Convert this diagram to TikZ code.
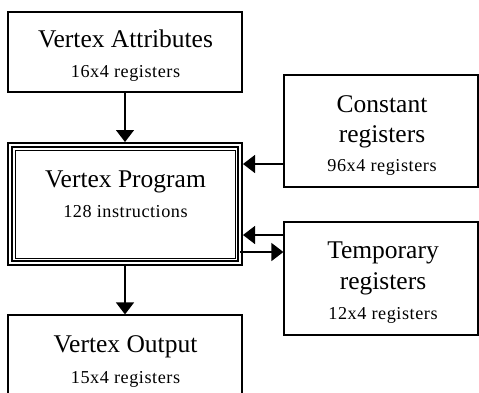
\documentclass[tikz,border=0pt]{standalone}
\usepackage{fontspec}
\setmainfont{Liberation Serif}
\newfontfamily\subfont[LetterSpace=3]{Liberation Serif}
\usetikzlibrary{arrows.meta}
\tikzset{
  box/.style={draw, line width=1.2pt, inner sep=0pt, minimum width=234pt},
  rbox/.style={draw, line width=1.2pt, inner sep=0pt, minimum width=194pt},
  ttl/.style={anchor=base, inner sep=0pt, font=\fontsize{25.5}{30}\selectfont},
  sub/.style={anchor=base, inner sep=0pt, font=\subfont\fontsize{18.2}{22}\selectfont},
  arr/.style={line width=1.3pt, -{Triangle[length=12pt,width=18pt]}}
}
\begin{document}
\begin{tikzpicture}[x=1pt,y=-1pt]
\useasboundingbox (0,0) rectangle (479,392);
\clip (0,0) rectangle (479,392);
% boxes
\node[box, minimum height=80pt] (attr) at (125,52) {};
\node[draw, line width=2pt, inner sep=0pt, minimum width=234pt, minimum height=122pt] (prog) at (125,204) {};
\node[draw, line width=1.2pt, inner sep=0pt, minimum width=226pt, minimum height=114pt] (progm) at (125,204) {};
\node[draw, line width=1pt, inner sep=0pt, minimum width=220pt, minimum height=108pt] (progi) at (125,204) {};
\node[rbox, minimum height=112pt] (const) at (381,131) {};
\node[rbox, minimum height=113pt] (temp) at (381,278.5) {};
\node[box, minimum height=90pt] (out) at (125,360) {};
% texts
\node[ttl] (t1) at (125.5,47) {Vertex Attributes};
\node[sub] (s1) at (125.5,77) {16x4 registers};
\node[ttl] (t2) at (125.5,187) {Vertex Program};
\node[sub] (s2) at (125.5,217) {128 instructions};
\node[ttl] (t3a) at (382,112) {Constant};
\node[ttl] (t3b) at (382,142) {registers};
\node[sub] (s3) at (382,171) {96x4 registers};
\node[ttl] (t4a) at (383,258) {Temporary};
\node[ttl] (t4b) at (383,289) {registers};
\node[sub] (s4) at (383,319) {12x4 registers};
\node[ttl] (t5) at (125.5,352) {Vertex Output};
\node[sub] (s5) at (125.5,383) {15x4 registers};
% connectors
\draw[arr] (attr.south) -- (prog.north);
\draw[arr] (prog.south) -- (out.north);
\coordinate (c1) at (284,164);
\draw[arr] (c1) -- (prog.east |- c1);
\coordinate (c2) at (284,235);
\draw[arr] (c2) -- (prog.east |- c2);
\coordinate (c3) at (240,252);
\draw[arr] (c3) -- (temp.west |- c3);
\end{tikzpicture}
\end{document}
